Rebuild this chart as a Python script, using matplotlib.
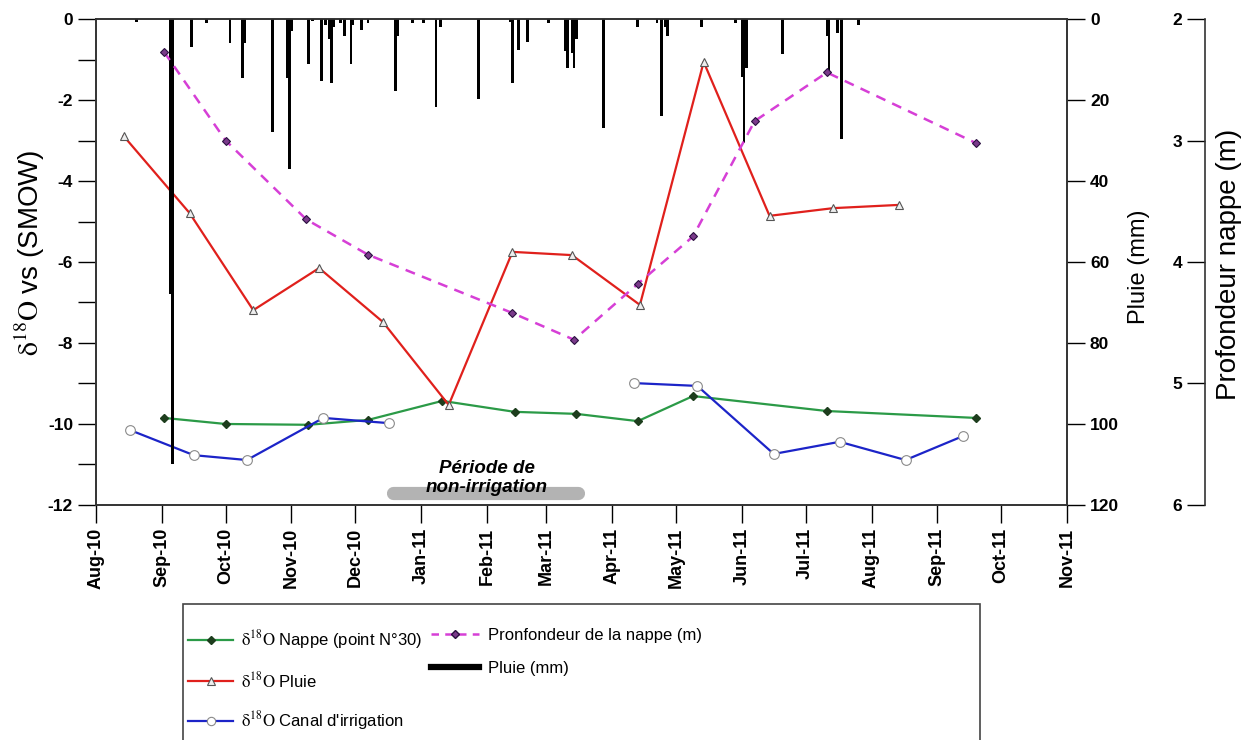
import matplotlib
matplotlib.use('Agg')
import matplotlib.pyplot as plt
import matplotlib.dates as mdates
from matplotlib import font_manager
from matplotlib.lines import Line2D
from matplotlib.patches import Rectangle
import numpy as np
import pandas as pd

plt.rcParams['font.family'] = ['Liberation Sans', 'DejaVu Sans']
plt.rcParams['mathtext.fontset'] = 'stix'
plt.rcParams['axes.unicode_minus'] = False

## Data ##

# d18O groundwater (point N°30)
nappe_dates = ['2010-09-02', '2010-10-01', '2010-11-09', '2010-12-07', '2011-01-11', '2011-02-14',
               '2011-03-15', '2011-04-13', '2011-05-09', '2011-07-11', '2011-09-19']
nappe_d18o = [-9.85, -10.0, -10.02, -9.9, -9.43, -9.70, -9.75, -9.93, -9.31, -9.68, -9.85]

# d18O rain
pluie_dates = ['2010-08-14', '2010-09-14', '2010-10-14', '2010-11-14', '2010-12-14', '2011-01-14',
               '2011-02-13', '2011-03-13', '2011-04-14', '2011-05-14', '2011-06-14', '2011-07-14',
               '2011-08-14']
pluie_d18o = [-2.89, -4.79, -7.19, -6.15, -7.48, -9.53, -5.75, -5.83, -7.06, -1.06, -4.86, -4.67, -4.59]

# d18O irrigation canal (no water during the non-irrigation period)
canal_dates = ['2010-08-17', '2010-09-16', '2010-10-11', '2010-11-16', '2010-12-17',
               '2011-04-11', '2011-05-11', '2011-06-16', '2011-07-17', '2011-08-17', '2011-09-13']
canal_d18o = [-10.15, -10.77, -10.89, -9.85, -9.98, -8.99, -9.06, -10.74, -10.44, -10.89, -10.30]

# water table depth (m)
prof_dates = ['2010-09-02', '2010-10-01', '2010-11-08', '2010-12-07', '2011-02-13', '2011-03-14',
              '2011-04-13', '2011-05-09', '2011-06-07', '2011-07-11', '2011-09-19']
prof_m = [2.27, 3.0, 3.65, 3.94, 4.42, 4.64, 4.18, 3.79, 2.84, 2.44, 3.02]

# daily rainfall (mm)
rain_dates = ['2010-08-20', '2010-09-05', '2010-09-06', '2010-09-15', '2010-09-22', '2010-10-03',
              '2010-10-09', '2010-10-10', '2010-10-23', '2010-10-30', '2010-10-31', '2010-11-01',
              '2010-11-09', '2010-11-11', '2010-11-15', '2010-11-17', '2010-11-19', '2010-11-20',
              '2010-11-21', '2010-11-24', '2010-11-26', '2010-11-29', '2010-11-30', '2010-12-04',
              '2010-12-07', '2010-12-20', '2010-12-21', '2010-12-28', '2011-01-02', '2011-01-08',
              '2011-01-10', '2011-01-28', '2011-02-12', '2011-02-13', '2011-02-16', '2011-02-20',
              '2011-03-02', '2011-03-10', '2011-03-11', '2011-03-13', '2011-03-14', '2011-03-15',
              '2011-03-28', '2011-04-13', '2011-04-22', '2011-04-24', '2011-04-26', '2011-04-27',
              '2011-05-13', '2011-05-29', '2011-06-01', '2011-06-02', '2011-06-03', '2011-06-20',
              '2011-07-11', '2011-07-12', '2011-07-16', '2011-07-18', '2011-07-26']
rain_mm = [0.8, 68, 110, 7, 1, 6,
           14.6, 6, 28, 14.6, 37, 3,
           11, 0.5, 15.3, 1.5, 5, 15.8,
           2, 1, 4.2, 11, 1.5, 2.7,
           1, 17.8, 4.2, 1, 1, 21.7,
           2, 19.8, 0.7, 15.8, 7.6, 5.6,
           1, 8, 12, 8.4, 12, 5,
           27, 2, 1, 24, 2, 4.2,
           2, 1, 14.3, 30.6, 12, 8.6,
           4.2, 13.6, 3.5, 29.6, 1.5]

## Styles ##
c_green = '#2b9a47'
c_red = '#e0201c'
c_blue = '#1c24c8'
c_mag = '#d63fd6'
d18o = r'$\mathrm{δ^{18}O}$'

names = {f.name for f in font_manager.fontManager.ttflist}
if 'Liberation Sans Narrow' in names:
    leg_family, leg_size = ['Liberation Sans Narrow', 'DejaVu Sans'], 15
else:
    leg_family, leg_size = ['Liberation Sans', 'DejaVu Sans'], 12

fig = plt.figure(figsize=(12.44, 7.40), dpi=100)
ax = fig.add_axes([0.0772, 0.3176, 0.7805, 0.6567])

# isotope series
ax.plot(pd.to_datetime(nappe_dates), nappe_d18o, color=c_green, lw=1.6, marker='D', ms=4,
        mfc='#1d3d1d', mec='#1d3d1d')
ax.plot(pd.to_datetime(pluie_dates), pluie_d18o, color=c_red, lw=1.6, marker='^', ms=6,
        mfc='#eeeeee', mec='#555555', mew=0.8)
canal_x = list(pd.to_datetime(canal_dates[:5])) + [pd.Timestamp('2011-02-01')] + list(pd.to_datetime(canal_dates[5:]))
canal_y = canal_d18o[:5] + [np.nan] + canal_d18o[5:]
ax.plot(canal_x, canal_y, color=c_blue, lw=1.6, marker='o', ms=7, mfc='white', mec='#8a8a8a', mew=0.8)

# non-irrigation period
ax.plot(pd.to_datetime(['2010-12-19', '2011-03-16']), [-11.7, -11.7], color='#b3b3b3', lw=9.5,
        solid_capstyle='round', zorder=1)
ax.text(pd.Timestamp('2011-02-01'), -11.34, 'Période de\nnon-irrigation', ha='center', va='center',
        fontsize=13.5, fontweight='bold', style='italic', linespacing=1.15, zorder=3)

ax.set_xlim(pd.Timestamp('2010-08-01'), pd.Timestamp('2011-11-01'))
ax.set_ylim(-12, 0)
ax.set_yticks(np.arange(-12, 1, 2))
ax.set_yticks(np.arange(-12, 1, 1), minor=True)
ax.xaxis.set_major_locator(mdates.MonthLocator())
ax.xaxis.set_major_formatter(mdates.DateFormatter('%b-%y'))
ax.tick_params(axis='both', which='both', direction='out', length=13, width=1)
for lab in ax.get_xticklabels():
    lab.set_rotation(90)
    lab.set_fontsize(13)
    lab.set_fontweight('bold')
for lab in ax.get_yticklabels():
    lab.set_fontsize(12.5)
    lab.set_fontweight('bold')
ax.set_ylabel(d18o + ' vs (SMOW)', fontsize=20)
ax.yaxis.set_label_coords(-0.05, 0.52)

# rainfall on inverted right axis
ax2 = ax.twinx()
ax2.bar(pd.to_datetime(rain_dates), rain_mm, width=1.3, color='black', linewidth=0)
ax2.set_ylim(120, 0)
ax2.set_yticks(np.arange(0, 121, 20))
ax2.tick_params(axis='y', direction='out', length=13, width=1)
for lab in ax2.get_yticklabels():
    lab.set_fontsize(12.5)
    lab.set_fontweight('bold')
ax2.set_ylabel('Pluie (mm)', fontsize=17)
ax2.yaxis.set_label_coords(1.063, 0.49)

# water table depth on an offset axis
ax3 = ax.twinx()
ax3.plot(pd.to_datetime(prof_dates), prof_m, color=c_mag, lw=1.8, ls=(0, (4, 3)), marker='D', ms=4.5,
         mfc='#7a3a8a', mec='#2a1040', mew=0.8)
ax3.set_ylim(6, 2)
ax3.set_yticks([2, 3, 4, 5, 6])
ax3.spines['left'].set_position(('axes', 1.142))
ax3.spines['left'].set_visible(True)
for s in ['right', 'top', 'bottom']:
    ax3.spines[s].set_visible(False)
ax3.yaxis.set_ticks_position('left')
ax3.tick_params(axis='y', direction='out', length=13, width=1)
for lab in ax3.get_yticklabels():
    lab.set_fontsize(12.5)
    lab.set_fontweight('bold')
ax3.set_ylabel('Profondeur nappe (m)', fontsize=20)
ax3.yaxis.set_label_position('right')
ax3.yaxis.set_label_coords(1.153, 0.495)

for a in (ax, ax2, ax3):
    for s in a.spines.values():
        s.set_linewidth(1.2)
        s.set_color('#333333')

## Legend ##
fig.patches.append(Rectangle((183 / 1244, -0.05), (980 - 183) / 1244, 0.05 + 1 - 604 / 740,
                             transform=fig.transFigure, facecolor='white', edgecolor='#444444', lw=1.2))
h1 = [Line2D([], [], color=c_green, lw=1.6, marker='D', ms=4, mfc='#1d3d1d', mec='#1d3d1d'),
      Line2D([], [], color=c_red, lw=1.6, marker='^', ms=6, mfc='#eeeeee', mec='#555555', mew=0.8),
      Line2D([], [], color=c_blue, lw=1.6, marker='o', ms=6, mfc='white', mec='#8a8a8a', mew=0.8)]
l1 = [d18o + ' Nappe (point N°30)', d18o + ' Pluie', d18o + " Canal d'irrigation"]
h2 = [Line2D([], [], color=c_mag, lw=1.8, ls=(0, (3, 2.5)), marker='D', ms=4, mfc='#7a3a8a', mec='#2a1040'),
      Line2D([], [], color='black', lw=4.5)]
l2 = ['Pronfondeur de la nappe (m)', 'Pluie (mm)']

leg1 = fig.legend(h1, l1, loc='upper left', bbox_to_anchor=(188 / 1244, 1 - 628 / 740), frameon=False,
                  borderpad=0, borderaxespad=0, handlelength=2.7, handletextpad=0.5, labelspacing=1.15,
                  prop=dict(family=leg_family, size=leg_size))
leg2 = fig.legend(h2, l2, loc='upper left', bbox_to_anchor=(431 / 1244, 1 - 628 / 740), frameon=False,
                  borderpad=0, borderaxespad=0, handlelength=2.9, handletextpad=0.5, labelspacing=1.05,
                  prop=dict(family=leg_family, size=leg_size))

fig.savefig('out.png', dpi=100)
